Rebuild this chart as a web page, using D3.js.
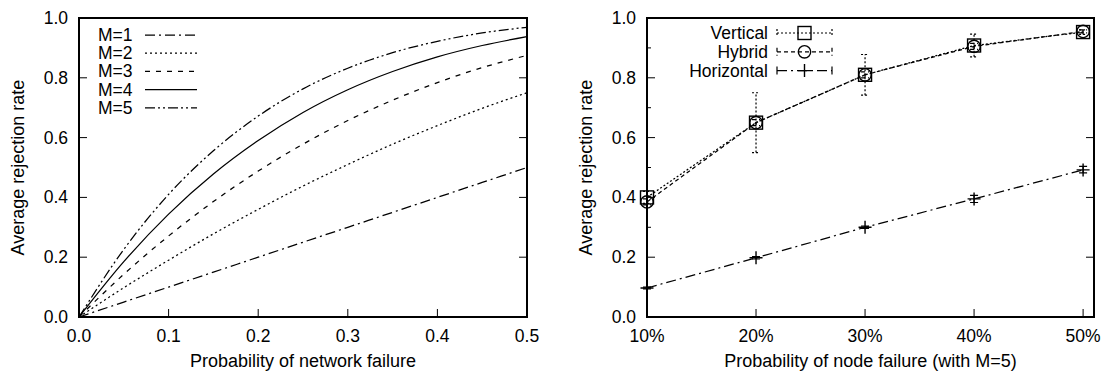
<!DOCTYPE html>
<html><head><meta charset="utf-8">
<script src="https://cdn.jsdelivr.net/npm/d3@7"></script>
<style>
body{margin:0;background:#fff;}
text{font-family:"Liberation Sans",Arial,sans-serif;fill:#000;}
</style></head>
<body><svg id="c" width="1102" height="374"></svg>
<script>
// ---------- data: left chart ----------
const probNet = [0, 0.05, 0.1, 0.15, 0.2, 0.25, 0.3, 0.35, 0.4, 0.45, 0.5];
const m1 = [0, 0.05, 0.10, 0.15, 0.20, 0.25, 0.30, 0.35, 0.40, 0.45, 0.50];
const m2 = [0, 0.098, 0.19, 0.278, 0.36, 0.438, 0.51, 0.578, 0.64, 0.698, 0.75];
const m3 = [0, 0.143, 0.271, 0.386, 0.488, 0.578, 0.657, 0.725, 0.784, 0.834, 0.875];
const m4 = [0, 0.185, 0.344, 0.478, 0.590, 0.684, 0.760, 0.821, 0.870, 0.908, 0.938];
const m5 = [0, 0.226, 0.410, 0.556, 0.672, 0.763, 0.832, 0.884, 0.922, 0.950, 0.969];
const leftLabels = ["M=1", "M=2", "M=3", "M=4", "M=5"];
const leftXTicks = [0, 0.1, 0.2, 0.3, 0.4, 0.5];
const yTicks = [0, 0.2, 0.4, 0.6, 0.8, 1.0];
const yMinor = [0.1, 0.3, 0.5, 0.7, 0.9];

// ---------- data: right chart ----------
const nodeFail = [10, 20, 30, 40, 50];
const vertical = [0.40, 0.65, 0.81, 0.908, 0.953];
const verticalLo = [0.38, 0.55, 0.742, 0.87, 0.945];
const verticalHi = [0.42, 0.75, 0.878, 0.946, 0.96];
const hybrid = [0.385, 0.65, 0.81, 0.905, 0.955];
const hybridLo = [0.375, 0.64, 0.80, 0.895, 0.95];
const hybridHi = [0.395, 0.66, 0.82, 0.915, 0.96];
const horizontal = [0.097, 0.198, 0.30, 0.395, 0.492];
const horizontalLo = [0.094, 0.194, 0.296, 0.383, 0.482];
const horizontalHi = [0.100, 0.202, 0.304, 0.407, 0.504];
const rightLabels = ["Vertical", "Hybrid", "Horizontal"];
const rightXTicks = [10, 20, 30, 40, 50];

const svg = d3.select("#c");
const TOP = 18, BOT = 317;
const FT = 17.5, FA = 18;

function frame(x, y, x0, x1, xTicks, xFmt, minor) {
  const g = svg.append("g");
  yTicks.forEach(t => {
    g.append("line").attr("x1", x0).attr("x2", x0 + 8).attr("y1", y(t)).attr("y2", y(t)).attr("stroke", "#000").attr("stroke-width", 1);
    g.append("line").attr("x1", x1).attr("x2", x1 - 8).attr("y1", y(t)).attr("y2", y(t)).attr("stroke", "#000").attr("stroke-width", 1);
    g.append("text").attr("x", x0 - 11).attr("y", y(t) + 6).attr("text-anchor", "end").attr("font-size", FT).text(d3.format(".1f")(t));
  });
  if (minor) yMinor.forEach(t => {
    g.append("line").attr("x1", x0).attr("x2", x0 + 4).attr("y1", y(t)).attr("y2", y(t)).attr("stroke", "#000").attr("stroke-width", 1);
  });
  xTicks.forEach(t => {
    g.append("line").attr("x1", x(t)).attr("x2", x(t)).attr("y1", BOT).attr("y2", BOT - 8).attr("stroke", "#000").attr("stroke-width", 1);
    g.append("text").attr("x", x(t)).attr("y", BOT + 25).attr("text-anchor", "middle").attr("font-size", FT).text(xFmt(t));
  });
  return g;
}
function border(x0, x1) {
  svg.append("rect").attr("x", x0).attr("y", TOP).attr("width", x1 - x0).attr("height", BOT - TOP)
    .attr("fill", "none").attr("stroke", "#000").attr("stroke-width", 2);
}

// ---------- left chart ----------
const LX0 = 79, LX1 = 527;
const xl = d3.scaleLinear().domain([0, 0.5]).range([LX0, LX1]);
const yl = d3.scaleLinear().domain([0, 1]).range([BOT, TOP]);
frame(xl, yl, LX0, LX1, leftXTicks, d3.format(".1f"), false);
const dashes = ["10,4,2,4", "2,3", "5,6", null, "10,3,2,3,2,3"];
const series = [m1, m2, m3, m4, m5];
const lineL = d3.line().x(d => xl(d[0])).y(d => yl(d[1])).curve(d3.curveMonotoneX);
series.forEach((s, i) => {
  svg.append("path").attr("d", lineL(probNet.map((p, j) => [p, s[j]])))
    .attr("fill", "none").attr("stroke", "#000").attr("stroke-width", 1.25)
    .attr("stroke-dasharray", dashes[i]);
  const ly = 35 + i * 18.2;
  svg.append("text").attr("x", 98).attr("y", ly + 6).attr("font-size", FT).text(leftLabels[i]);
  svg.append("line").attr("x1", 145).attr("x2", 197).attr("y1", ly).attr("y2", ly)
    .attr("stroke", "#000").attr("stroke-width", 1.25).attr("stroke-dasharray", dashes[i]);
});
border(LX0, LX1);
svg.append("text").attr("transform", `translate(24,${(TOP + BOT) / 2}) rotate(-90)`)
  .attr("text-anchor", "middle").attr("font-size", FA).text("Average rejection rate");
svg.append("text").attr("x", (LX0 + LX1) / 2).attr("y", 367).attr("text-anchor", "middle")
  .attr("font-size", FA).text("Probability of network failure");

// ---------- right chart ----------
const RX0 = 647, RX1 = 1094;
const xr = d3.scaleLinear().domain([10, 51]).range([RX0, RX1]);
const yr = d3.scaleLinear().domain([0, 1]).range([BOT, TOP]);
frame(xr, yr, RX0, RX1, rightXTicks, d => d + "%", true);

const rdash = ["2,2", "4,3", "10,4,2,4"];
const rvals = [vertical, hybrid, horizontal];
const rlo = [verticalLo, hybridLo, horizontalLo];
const rhi = [verticalHi, hybridHi, horizontalHi];
const lineR = d3.line().x(d => xr(d[0])).y(d => yr(d[1]));

function marker(g, kind, cx, cy) {
  if (kind === 0) {
    g.append("rect").attr("x", cx - 6.5).attr("y", cy - 6.5).attr("width", 13).attr("height", 13)
      .attr("fill", "none").attr("stroke", "#000").attr("stroke-width", 1.4);
  } else if (kind === 1) {
    g.append("circle").attr("cx", cx).attr("cy", cy).attr("r", 6.2)
      .attr("fill", "none").attr("stroke", "#000").attr("stroke-width", 1.4);
  } else {
    g.append("path").attr("d", `M${cx - 6.5},${cy}H${cx + 6.5}M${cx},${cy - 6.5}V${cy + 6.5}`)
      .attr("stroke", "#000").attr("stroke-width", 1.4);
  }
}
rvals.forEach((s, i) => {
  const g = svg.append("g");
  g.append("path").attr("d", lineR(nodeFail.map((p, j) => [p, s[j]])))
    .attr("fill", "none").attr("stroke", "#000").attr("stroke-width", 1.25).attr("stroke-dasharray", rdash[i]);
  nodeFail.forEach((p, j) => {
    const cx = xr(p);
    g.append("path").attr("d", `M${cx},${yr(rlo[i][j])}V${yr(rhi[i][j])}M${cx - 4},${yr(rlo[i][j])}H${cx + 4}M${cx - 4},${yr(rhi[i][j])}H${cx + 4}`)
      .attr("fill", "none").attr("stroke", "#000").attr("stroke-width", 1.2).attr("stroke-dasharray", rdash[i]);
    marker(g, i, cx, yr(s[j]));
  });
  const ly = 33 + i * 18.8;
  svg.append("text").attr("x", 768).attr("y", ly + 6).attr("text-anchor", "end").attr("font-size", FT).text(rightLabels[i]);
  svg.append("path").attr("d", `M777,${ly}H832M777,${ly - 4}V${ly + 4}M832,${ly - 4}V${ly + 4}`)
    .attr("fill", "none").attr("stroke", "#000").attr("stroke-width", 1.2).attr("stroke-dasharray", rdash[i]);
  marker(svg, i, 804.5, ly);
});
border(RX0, RX1);
svg.append("text").attr("transform", `translate(${RX0 - 55},${(TOP + BOT) / 2}) rotate(-90)`)
  .attr("text-anchor", "middle").attr("font-size", FA).text("Average rejection rate");
svg.append("text").attr("x", (RX0 + RX1) / 2).attr("y", 367).attr("text-anchor", "middle")
  .attr("font-size", FA).text("Probability of node failure (with M=5)");
</script></body></html>
